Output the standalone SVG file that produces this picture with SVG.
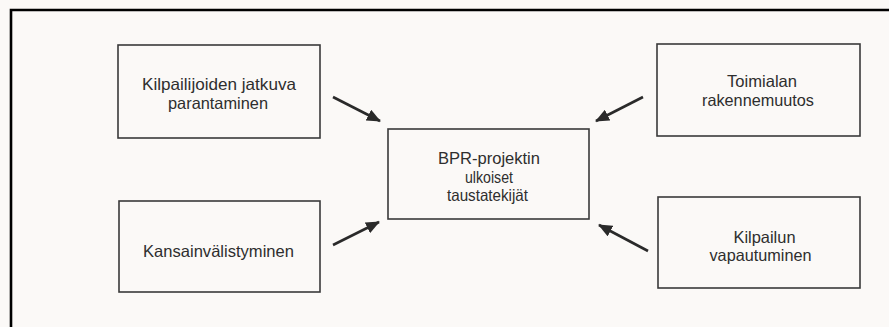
<svg xmlns="http://www.w3.org/2000/svg" width="889" height="327" viewBox="0 0 889 327">
  <style>
    .box { fill: none; stroke: #3a3a3a; stroke-width: 1.6; }
    .lbl { font-family: "Liberation Sans", Arial, sans-serif; font-size: 16.5px; fill: #2e2e2e; text-anchor: middle; }
    .arrow { stroke: #2a2a2a; stroke-width: 2.6; fill: none; marker-end: url(#head); }
  </style>
  <defs>
    <marker id="head" markerUnits="userSpaceOnUse" viewBox="0 0 14 12" refX="13" refY="6" markerWidth="14" markerHeight="12" orient="auto">
      <path d="M0,0 L14,6 L0,12 Z" fill="#2a2a2a"/>
    </marker>
  </defs>

  <!-- page background -->
  <rect x="0" y="0" width="889" height="327" fill="#fbf9f7"/>

  <!-- frame: top and left rule -->
  <path d="M11,327 V10 H889" fill="none" stroke="#000" stroke-width="2.6"/>

  <g id="n-kilpailijoiden">
    <rect class="box" x="118" y="45" width="202" height="93"/>
    <text class="lbl" x="219" y="90" textLength="154" lengthAdjust="spacingAndGlyphs">Kilpailijoiden jatkuva</text>
    <text class="lbl" x="218" y="108.5" textLength="100" lengthAdjust="spacingAndGlyphs">parantaminen</text>
  </g>

  <g id="n-toimialan">
    <rect class="box" x="657" y="44" width="203" height="92"/>
    <text class="lbl" x="762" y="87" textLength="70" lengthAdjust="spacingAndGlyphs">Toimialan</text>
    <text class="lbl" x="758" y="105.5" textLength="112" lengthAdjust="spacingAndGlyphs">rakennemuutos</text>
  </g>

  <g id="n-bpr">
    <rect class="box" x="388" y="129" width="201" height="90"/>
    <text class="lbl" x="489" y="164" textLength="102" lengthAdjust="spacingAndGlyphs">BPR-projektin</text>
    <text class="lbl" x="489" y="182.5" textLength="48" lengthAdjust="spacingAndGlyphs">ulkoiset</text>
    <text class="lbl" x="487.5" y="201" textLength="81" lengthAdjust="spacingAndGlyphs">taustatekijät</text>
  </g>

  <g id="n-kansainvalistyminen">
    <rect class="box" x="119" y="201" width="201" height="91"/>
    <text class="lbl" x="218.5" y="257" textLength="151" lengthAdjust="spacingAndGlyphs">Kansainvälistyminen</text>
  </g>

  <g id="n-kilpailun">
    <rect class="box" x="658" y="197" width="202" height="91"/>
    <text class="lbl" x="764.5" y="242.5" textLength="62" lengthAdjust="spacingAndGlyphs">Kilpailun</text>
    <text class="lbl" x="760.5" y="261" textLength="102" lengthAdjust="spacingAndGlyphs">vapautuminen</text>
  </g>

  <g id="connectors">
    <line class="arrow" x1="333" y1="97" x2="380" y2="121"/>
    <line class="arrow" x1="643" y1="97" x2="596" y2="121"/>
    <line class="arrow" x1="333" y1="245" x2="379" y2="222"/>
    <line class="arrow" x1="648" y1="251" x2="599" y2="225"/>
  </g>
</svg>
